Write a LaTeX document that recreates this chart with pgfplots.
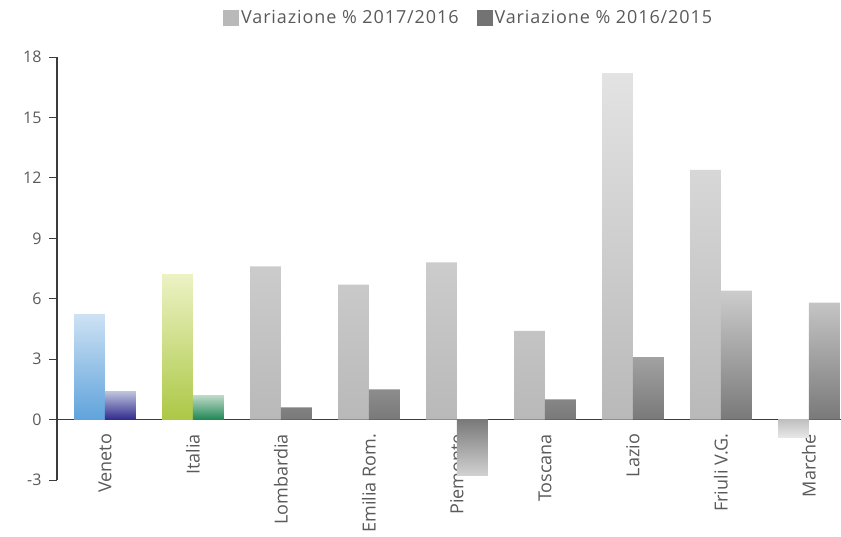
\documentclass[border=0pt]{standalone}
\usepackage{fontspec}
\setmainfont{Open Sans}
\newfontfamily\legendfont[LetterSpace=5]{Open Sans}
\usepackage{pgfplots}
\pgfplotsset{compat=1.18}

% bar shadings
\definecolor{txt}{HTML}{5A5A5A}
\definecolor{axisline}{HTML}{3C3C3C}
\tikzset{
  lightgray/.style={draw=none, top color=gray!22, bottom color=gray!55},
  darkgray/.style={draw=none, top color=gray!40, bottom color=gray!95!black},
  lightgrayneg/.style={draw=none, top color=gray!50, bottom color=gray!18},
  darkgrayneg/.style={draw=none, top color=gray!95!black, bottom color=gray!35},
  venlight/.style={draw=none, top color={rgb,255:red,205;green,225;blue,243}, bottom color={rgb,255:red,95;green,163;blue,220}},
  vendark/.style={draw=none, top color={rgb,255:red,190;green,195;blue,222}, bottom color={rgb,255:red,48;green,42;blue,140}},
  itlight/.style={draw=none, top color={rgb,255:red,236;green,242;blue,196}, bottom color={rgb,255:red,172;green,200;blue,70}},
  itdark/.style={draw=none, top color={rgb,255:red,190;green,218;blue,200}, bottom color={rgb,255:red,30;green,135;blue,85}},
}

\begin{document}
\begin{tikzpicture}
\begin{axis}[
  scale only axis,
  width=784pt, height=423pt,
  xmin=-0.545, xmax=8.364,
  ymin=-3, ymax=18,
  axis x line*=middle,
  axis y line*=left,
  axis line style={axisline, line width=1.3pt},
  ytick={-3,0,3,6,9,12,15,18},
  yticklabel style={font=\fontsize{16}{18}\selectfont, text=txt, xshift=-4pt},
  ytick style={axisline, line width=0.8pt},
  tick align=outside,
  major tick length=8pt,
  xtick={0,...,8},
  xticklabels={Veneto, Italia, Lombardia, Emilia Rom., Piemonte, Toscana, Lazio, Friuli V.G., Marche},
  xticklabel style={rotate=90, anchor=east, font=\fontsize{18}{20}\selectfont, text=txt, xshift=-3pt},
  xtick style={draw=none},
  /pgf/number format/assume math mode=true,
  bar width=0.35,
  clip=false,
  legend columns=2,
  legend style={draw=none, fill=none, at={(0.525,1.092)}, anchor=center,
    font=\legendfont\fontsize{18}{20}\selectfont, text=txt,
    /tikz/every even column/.append style={column sep=16pt}},
  legend image code/.code={\fill[#1] (0pt,-8pt) rectangle (16pt,8pt);},
]
\addlegendimage{draw=none, fill=gray!55}
\addlegendentry{Variazione \% 2017/2016}
\addlegendimage{draw=none, fill=gray!90!black}
\addlegendentry{Variazione \% 2016/2015}

% Variazione % 2017/2016
\addplot[ybar, bar shift=-0.175, venlight, forget plot] coordinates {(0,5.2)};
\addplot[ybar, bar shift=-0.175, itlight, forget plot] coordinates {(1,7.2)};
\addplot[ybar, bar shift=-0.175, lightgray, forget plot] coordinates {
  (2,7.6) (3,6.7) (4,7.8) (5,4.4) (6,17.2) (7,12.4)};
\addplot[ybar, bar shift=-0.175, lightgrayneg, forget plot] coordinates {(8,-0.9)};

% Variazione % 2016/2015
\addplot[ybar, bar shift=0.175, vendark, forget plot] coordinates {(0,1.4)};
\addplot[ybar, bar shift=0.175, itdark, forget plot] coordinates {(1,1.2)};
\addplot[ybar, bar shift=0.175, darkgray, forget plot] coordinates {
  (2,0.6) (3,1.5) (5,1.0) (6,3.1) (7,6.4) (8,5.8)};
\addplot[ybar, bar shift=0.175, darkgrayneg, forget plot] coordinates {(4,-2.8)};

\coordinate (sw) at (rel axis cs:0,0);
\coordinate (ne) at (rel axis cs:1,1);
\end{axis}
\pgfresetboundingbox
\path[use as bounding box] ([shift={(-57pt,-56pt)}]sw) rectangle ([shift={(0pt,57pt)}]ne);
\end{tikzpicture}
\end{document}
